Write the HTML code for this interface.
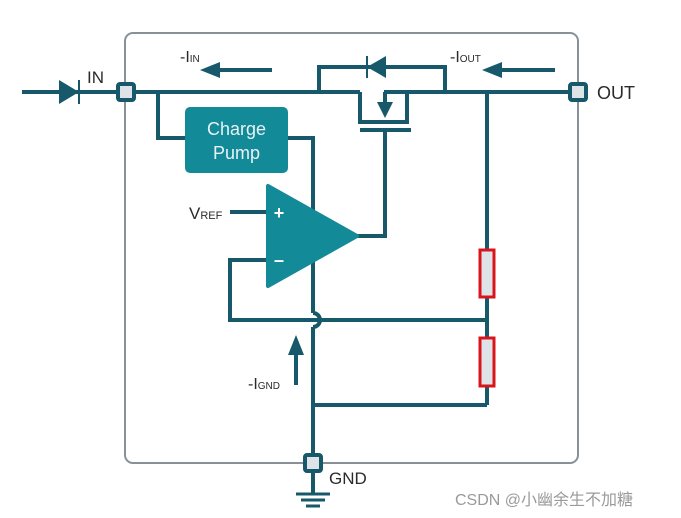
<!DOCTYPE html>
<html><head><style>body{margin:0;background:#fff}svg{display:block}</style></head><body>
<svg width="681" height="518" viewBox="0 0 681 518" xmlns="http://www.w3.org/2000/svg" font-family="Liberation Sans, sans-serif">
<rect x="125" y="33" width="453" height="430" rx="8" fill="none" stroke="#8a9196" stroke-width="2"/>
<g stroke="#17596a" stroke-width="4" fill="none">
<line x1="22" y1="92" x2="360" y2="92"/>
<line x1="384" y1="92" x2="578" y2="92"/>
<polyline points="360,92 360,122 407,122 407,92"/>
<line x1="385" y1="92" x2="385" y2="104"/>
<line x1="360" y1="130" x2="411" y2="130"/>
<polyline points="385,130 385,236 357,236"/>
<polyline points="319,92 319,67 445,67 445,92"/>
<line x1="79" y1="80" x2="79" y2="104" stroke-width="2"/>
<line x1="367" y1="56" x2="367" y2="78" stroke-width="2"/>
<polyline points="158,92 158,138 185,138"/>
<polyline points="288,138 313,138 313,313"/>
<path d="M313,327 L313,463"/>
<path d="M313,313 A7,7 0 0 1 313,327"/>
<line x1="230" y1="212" x2="268" y2="212"/>
<polyline points="268,260 230,260 230,320 487,320"/>
<line x1="487" y1="92" x2="487" y2="405"/>
<polyline points="487,405 313,405"/>
<line x1="272" y1="70" x2="210" y2="70"/>
<line x1="555" y1="70" x2="492" y2="70"/>
<line x1="296" y1="385" x2="296" y2="345"/>
<line x1="313" y1="463" x2="313" y2="494"/>
<line x1="296" y1="494" x2="330" y2="494" stroke-width="3"/>
<line x1="301" y1="500" x2="325" y2="500" stroke-width="3"/>
<line x1="306" y1="506" x2="320" y2="506" stroke-width="3"/>
</g>
<g fill="#17596a">
<polygon points="59,80 59,104 79,92"/>
<polygon points="386,56 386,78 367,67"/>
<polygon points="377,102 393,102 385,118"/>
<polygon points="200,70 220,62 220,78"/>
<polygon points="482,70 502,62 502,78"/>
<polygon points="296,335 288,355 304,355"/>
</g>
<rect x="480" y="250" width="14" height="47" fill="#dde3e6" stroke="#d9141b" stroke-width="3"/>
<rect x="480" y="338" width="14" height="48" fill="#dde3e6" stroke="#d9141b" stroke-width="3"/>
<rect x="185" y="107" width="103" height="66" rx="5" fill="#138a98"/>
<text x="236.5" y="135" fill="#e8f2f4" font-size="18" text-anchor="middle">Charge</text>
<text x="236.5" y="159" fill="#e8f2f4" font-size="18" text-anchor="middle">Pump</text>
<polygon points="268,186 268,286 357,236" fill="#138a98" stroke="#138a98" stroke-width="4" stroke-linejoin="round"/>
<text x="279" y="219" fill="#fff" font-size="18" text-anchor="middle" font-weight="bold">+</text>
<text x="279" y="266" fill="#fff" font-size="18" text-anchor="middle" font-weight="bold">–</text>
<g fill="#dde3e6" stroke="#17596a" stroke-width="4">
<rect x="118" y="84" width="16" height="16" rx="2"/>
<rect x="570" y="84" width="16" height="16" rx="2"/>
<rect x="305" y="455" width="16" height="16" rx="2"/>
</g>
<g fill="#2a2a2a">
<text x="87" y="83" font-size="17">IN</text>
<text x="597" y="99" font-size="18">OUT</text>
<text x="329" y="484" font-size="17">GND</text>
<text x="180" y="62" font-size="16">-I<tspan font-size="10">IN</tspan></text>
<text x="450" y="62" font-size="16">-I<tspan font-size="10">OUT</tspan></text>
<text x="189" y="219" font-size="17">V<tspan font-size="11">REF</tspan></text>
<text x="248" y="389" font-size="16">-I<tspan font-size="10">GND</tspan></text>
</g>
<text x="455" y="505" fill="#9a9a9a" font-size="16" font-family="Liberation Sans, Noto Sans CJK SC, sans-serif">CSDN @小幽余生不加糖</text>
</svg>
</body></html>
